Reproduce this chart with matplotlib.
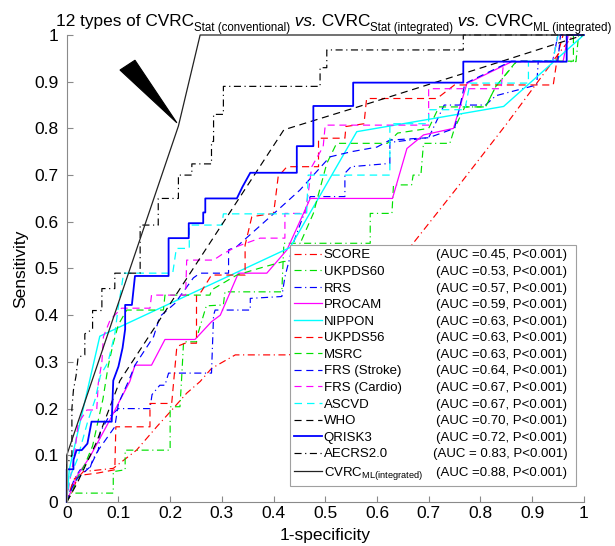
"""ROC curves: 12 conventional risk scores vs. integrated statistical / ML models."""

import matplotlib

matplotlib.use("Agg")
import matplotlib.pyplot as plt
from matplotlib.patches import Polygon

plt.rcParams["font.family"] = ["Liberation Sans", "DejaVu Sans"]
plt.rcParams["mathtext.fontset"] = "custom"
plt.rcParams["mathtext.rm"] = "Liberation Sans"
plt.rcParams["mathtext.it"] = "Liberation Sans:italic"

# (1-specificity, sensitivity)
SCORE = [(0, 0), (0.01, 0.02), (0.02, 0.05), (0.032, 0.065), (0.09, 0.072), (0.135, 0.111),
         (0.174, 0.161), (0.2, 0.193), (0.232, 0.233), (0.258, 0.258), (0.28, 0.286),
         (0.326, 0.315), (0.43, 0.315), (0.5, 0.34), (0.6, 0.45), (0.67, 0.554), (0.76, 0.68),
         (0.851, 0.81), (0.954, 0.964), (0.98, 1), (1, 1)]
UKPDS60 = [(0, 0), (0.005, 0.019), (0.09, 0.019), (0.09, 0.065), (0.113, 0.069), (0.113, 0.111),
           (0.2, 0.111), (0.2, 0.204), (0.219, 0.204), (0.222, 0.26), (0.226, 0.343),
           (0.251, 0.343), (0.255, 0.365), (0.27, 0.42), (0.303, 0.422), (0.306, 0.45),
           (0.416, 0.45), (0.42, 0.554), (0.587, 0.554), (0.587, 0.618), (0.629, 0.618),
           (0.632, 0.679), (0.667, 0.679), (0.67, 0.70), (0.685, 0.70), (0.69, 0.768),
           (0.741, 0.768), (0.75, 0.80), (0.77, 0.846), (0.81, 0.846), (0.83, 0.89),
           (0.87, 0.943), (0.985, 0.943), (0.99, 1), (1, 1)]
RRS = [(0, 0), (0.005, 0.02), (0.015, 0.05), (0.026, 0.069), (0.045, 0.072), (0.05, 0.09),
       (0.061, 0.111), (0.065, 0.15), (0.08, 0.18), (0.1, 0.2), (0.161, 0.2), (0.165, 0.23),
       (0.18, 0.25), (0.19, 0.25), (0.197, 0.276), (0.28, 0.276), (0.284, 0.40), (0.287, 0.411),
       (0.355, 0.411), (0.355, 0.436), (0.416, 0.44), (0.422, 0.482), (0.44, 0.56), (0.46, 0.62),
       (0.471, 0.654), (0.538, 0.654), (0.538, 0.704), (0.55, 0.718), (0.625, 0.725),
       (0.625, 0.77), (0.70, 0.78), (0.73, 0.85), (0.81, 0.85), (0.83, 0.87), (0.909, 0.893),
       (0.912, 0.944), (0.94, 0.944), (0.95, 1), (1, 1)]
PROCAM = [(0, 0), (0.019, 0.054), (0.045, 0.097), (0.064, 0.136), (0.087, 0.183), (0.103, 0.218),
          (0.122, 0.258), (0.132, 0.293), (0.164, 0.293), (0.19, 0.348), (0.248, 0.348),
          (0.28, 0.386), (0.297, 0.40), (0.332, 0.49), (0.387, 0.49), (0.426, 0.54),
          (0.471, 0.65), (0.63, 0.65), (0.658, 0.757), (0.69, 0.786), (0.748, 0.80),
          (0.774, 0.896), (0.861, 0.943), (0.96, 0.943), (0.97, 1), (1, 1)]
NIPPON = [(0, 0), (0.005, 0.07), (0.064, 0.355), (0.432, 0.545), (0.561, 0.793),
          (0.845, 0.847), (1, 1)]
UKPDS56 = [(0, 0), (0.008, 0.03), (0.015, 0.05), (0.032, 0.058), (0.06, 0.062), (0.093, 0.069),
           (0.095, 0.161), (0.161, 0.161), (0.161, 0.211), (0.203, 0.211), (0.213, 0.333),
           (0.229, 0.34), (0.251, 0.34), (0.251, 0.443), (0.26, 0.45), (0.28, 0.486),
           (0.345, 0.486), (0.345, 0.55), (0.358, 0.611), (0.40, 0.618), (0.403, 0.643),
           (0.409, 0.697), (0.426, 0.718), (0.487, 0.718), (0.487, 0.779), (0.538, 0.779),
           (0.54, 0.804), (0.575, 0.81), (0.58, 0.864), (0.716, 0.864), (0.75, 0.893),
           (0.941, 0.893), (0.95, 0.96), (0.96, 1), (1, 1)]
MSRC = [(0, 0), (0.01, 0.02), (0.02, 0.05), (0.035, 0.08), (0.05, 0.12), (0.06, 0.17),
        (0.07, 0.22), (0.08, 0.29), (0.09, 0.34), (0.1, 0.38), (0.116, 0.411), (0.187, 0.411),
        (0.19, 0.443), (0.277, 0.443), (0.28, 0.454), (0.329, 0.486), (0.371, 0.50),
        (0.419, 0.515), (0.432, 0.515), (0.45, 0.55), (0.477, 0.618), (0.503, 0.725),
        (0.522, 0.768), (0.62, 0.768), (0.64, 0.79), (0.70, 0.80), (0.72, 0.846), (0.81, 0.846),
        (0.83, 0.89), (0.87, 0.944), (0.98, 0.944), (0.98, 1), (1, 1)]
FRS_STROKE = [(0, 0), (0.01, 0.03), (0.02, 0.05), (0.039, 0.069), (0.045, 0.075), (0.061, 0.111),
              (0.093, 0.161), (0.1, 0.211), (0.12, 0.26), (0.132, 0.293), (0.168, 0.354),
              (0.18, 0.397), (0.209, 0.425), (0.245, 0.48), (0.258, 0.49), (0.313, 0.49),
              (0.313, 0.54), (0.329, 0.547), (0.413, 0.63), (0.451, 0.668), (0.509, 0.739),
              (0.55, 0.75), (0.60, 0.76), (0.625, 0.775), (0.70, 0.78), (0.75, 0.80),
              (0.76, 0.845), (0.77, 0.896), (0.86, 0.944), (0.95, 0.944), (0.955, 1), (1, 1)]
FRS_CARDIO = [(0, 0), (0.005, 0.04), (0.015, 0.1), (0.022, 0.168), (0.039, 0.197), (0.058, 0.197),
              (0.061, 0.254), (0.068, 0.3), (0.071, 0.354), (0.084, 0.39), (0.106, 0.415),
              (0.161, 0.415), (0.164, 0.443), (0.23, 0.443), (0.232, 0.518), (0.284, 0.518),
              (0.3, 0.53), (0.329, 0.547), (0.374, 0.565), (0.422, 0.565), (0.422, 0.618),
              (0.461, 0.618), (0.467, 0.661), (0.474, 0.718), (0.496, 0.761), (0.5, 0.807),
              (0.70, 0.807), (0.70, 0.885), (0.84, 0.885), (0.845, 0.943), (0.94, 0.943),
              (0.95, 1), (1, 1)]
ASCVD = [(0, 0), (0.005, 0.05), (0.02, 0.09), (0.04, 0.17), (0.055, 0.22), (0.065, 0.27),
         (0.08, 0.3), (0.093, 0.36), (0.1, 0.42), (0.106, 0.46), (0.11, 0.49), (0.205, 0.49),
         (0.212, 0.543), (0.237, 0.543), (0.237, 0.593), (0.3, 0.593), (0.303, 0.617),
         (0.464, 0.617), (0.467, 0.70), (0.625, 0.70), (0.625, 0.81), (0.70, 0.81), (0.70, 0.84),
         (0.77, 0.84), (0.78, 0.897), (0.893, 0.897), (0.893, 0.944), (0.94, 0.944), (0.95, 1),
         (1, 1)]
WHO = [(0, 0), (0.02, 0.04), (0.058, 0.129), (0.103, 0.26), (0.42, 0.797), (0.56, 0.845),
       (0.8, 0.929), (1, 1)]
QRISK3 = [(0, 0), (0, 0.07), (0.013, 0.07), (0.013, 0.09), (0.019, 0.111), (0.029, 0.111),
          (0.04, 0.125), (0.048, 0.172), (0.087, 0.172), (0.09, 0.26), (0.1, 0.29), (0.108, 0.33),
          (0.113, 0.37), (0.113, 0.422), (0.126, 0.422), (0.132, 0.484), (0.197, 0.484),
          (0.197, 0.565), (0.236, 0.565), (0.236, 0.597), (0.264, 0.597), (0.264, 0.62),
          (0.268, 0.62), (0.268, 0.65), (0.329, 0.65), (0.34, 0.675), (0.355, 0.705),
          (0.445, 0.705), (0.445, 0.762), (0.477, 0.762), (0.477, 0.848), (0.554, 0.848),
          (0.554, 0.898), (0.767, 0.898), (0.767, 0.943), (0.967, 0.943), (0.967, 1), (1, 1)]
AECRS = [(0, 0), (0, 0.08), (0.01, 0.10), (0.01, 0.2), (0.013, 0.24), (0.018, 0.27),
         (0.022, 0.31), (0.035, 0.315), (0.035, 0.36), (0.05, 0.37), (0.05, 0.41), (0.068, 0.41),
         (0.068, 0.457), (0.093, 0.457), (0.093, 0.49), (0.142, 0.49), (0.142, 0.593),
         (0.177, 0.593), (0.177, 0.65), (0.216, 0.65), (0.216, 0.70), (0.242, 0.70),
         (0.242, 0.724), (0.28, 0.724), (0.28, 0.772), (0.284, 0.772), (0.284, 0.83),
         (0.303, 0.83), (0.303, 0.89), (0.49, 0.89), (0.49, 0.93), (0.503, 0.93), (0.503, 0.968),
         (0.767, 0.968), (0.767, 1), (1, 1)]
CVRC_ML = [(0, 0), (0, 0.1), (0.216, 0.805), (0.258, 1), (1, 1)]

NAMES = ["SCORE", "UKPDS60", "RRS", "PROCAM", "NIPPON", "UKPDS56", "MSRC", "FRS (Stroke)",
         "FRS (Cardio)", "ASCVD", "WHO", "QRISK3", "AECRS2.0",
         r"CVRC$_{\mathrm{ML(integrated)}}$"]
AUC_TEXT = ["(AUC =0.45, P<0.001)", "(AUC =0.53, P<0.001)", "(AUC =0.57, P<0.001)",
            "(AUC =0.59, P<0.001)", "(AUC =0.63, P<0.001)", "(AUC =0.63, P<0.001)",
            "(AUC =0.63, P<0.001)", "(AUC =0.64, P<0.001)", "(AUC =0.67, P<0.001)",
            "(AUC =0.67, P<0.001)", "(AUC =0.70, P<0.001)", "(AUC =0.72, P<0.001)",
            "(AUC = 0.83, P<0.001)", "(AUC =0.88, P<0.001)"]
CURVES = [SCORE, UKPDS60, RRS, PROCAM, NIPPON, UKPDS56, MSRC, FRS_STROKE, FRS_CARDIO, ASCVD,
          WHO, QRISK3, AECRS, CVRC_ML]

# title pieces: (text, is_subscript, italic)
TITLE_PARTS = [("12 types of CVRC", False, False), ("Stat (conventional)", True, False),
               (" vs.", False, True), (" CVRC", False, False), ("Stat (integrated)", True, False),
               (" vs.", False, True), (" CVRC", False, False), ("ML (integrated)", True, False)]

# colour, line style, width per curve (MATLAB-like)
STYLES = [
    ("#ff0000", "-.", 0.85), ("#00e000", "-.", 0.85), ("#0000ff", "-.", 0.85),
    ("#ff00ff", "-", 0.9), ("#00ffff", "-", 1.0), ("#ff0000", "--", 0.85),
    ("#00e000", "--", 0.85), ("#0000ff", "--", 0.85), ("#ff00ff", "--", 0.85),
    ("#00ffff", "--", 0.9), ("#000000", "--", 0.85), ("#0000ff", "-", 1.3),
    ("#000000", "-.", 0.85), ("#222222", "-", 0.9),
]
DASHES = {"--": (6, 4), "-.": (6, 3, 1, 3)}

# wedge pointer drawn next to the ML curve
POINTER = [(0.103, 0.925), (0.132, 0.946), (0.213, 0.812)]

fig = plt.figure(figsize=(6.15, 5.46), dpi=100)
ax = fig.add_axes([0.1085, 0.0806, 0.8407, 0.8553])

for pts, name, (color, ls, lw) in zip(CURVES, NAMES, STYLES):
    fpr, tpr = zip(*pts)
    line, = ax.plot(fpr, tpr, color=color, linestyle="-" if ls == "-" else "--", lw=lw,
                    label=name, clip_on=False)
    if ls in DASHES:
        line.set_dashes(DASHES[ls])

ax.add_patch(Polygon(POINTER, closed=True, facecolor="black", edgecolor="black", lw=0.8))

ax.set_xlim(0, 1)
ax.set_ylim(0, 1)
ticks = [i / 10 for i in range(11)]
tick_labels = ["0"] + [f"{t:.1f}" for t in ticks[1:-1]] + ["1"]
ax.set_xticks(ticks, tick_labels)
ax.set_yticks(ticks, tick_labels)
ax.tick_params(direction="in", length=4, width=0.8, color="#8a8a8a", labelsize=12.5)
ax.tick_params(axis="x", pad=3)
ax.tick_params(axis="y", pad=6)
for side in ("top", "right"):
    ax.spines[side].set_visible(False)
for side in ("left", "bottom"):
    ax.spines[side].set_color("#8a8a8a")
    ax.spines[side].set_linewidth(0.8)

ax.set_xlabel("1-specificity", fontsize=12.5, labelpad=5)
ax.set_ylabel("Sensitivity", fontsize=12.5, labelpad=4)

leg = ax.legend(loc="upper left", bbox_to_anchor=(0.432, 0.026, 0.553, 0.524), mode="expand",
                borderaxespad=0, fontsize=9.5, handlelength=2.1, handletextpad=0.15,
                labelspacing=0.33, borderpad=0.3, fancybox=False, framealpha=1,
                edgecolor="#a0a0a0")
leg.get_frame().set_linewidth(0.8)

fig.canvas.draw()
renderer = fig.canvas.get_renderer()

# AUC text right-aligned inside the legend box, one per legend row
inv = ax.transAxes.inverted()
for txt, auc in zip(leg.get_texts(), AUC_TEXT):
    bb = txt.get_window_extent(renderer)
    _, yc = inv.transform((0, (bb.y0 + bb.y1) / 2))
    ax.text(0.968, yc, auc, transform=ax.transAxes, ha="right", va="center", fontsize=9.5,
            zorder=10)

# title built from pieces so the subscripts can be small; starts near the left edge
main_size, sub_size = 12.4, 8.3
baseline = 546 - 26
pieces = []
for text, is_sub, italic in TITLE_PARTS:
    t = fig.text(0, 0, text, fontsize=sub_size if is_sub else main_size,
                 style="italic" if italic else "normal", va="baseline",
                 transform=None)
    pieces.append((t, is_sub))
widths = [t.get_window_extent(renderer).width for t, _ in pieces]
x = min(56, 612 - sum(widths))
for (t, is_sub), w in zip(pieces, widths):
    t.set_position((x, baseline - 5 if is_sub else baseline))
    x += w

fig.savefig("out.png", dpi=100)
